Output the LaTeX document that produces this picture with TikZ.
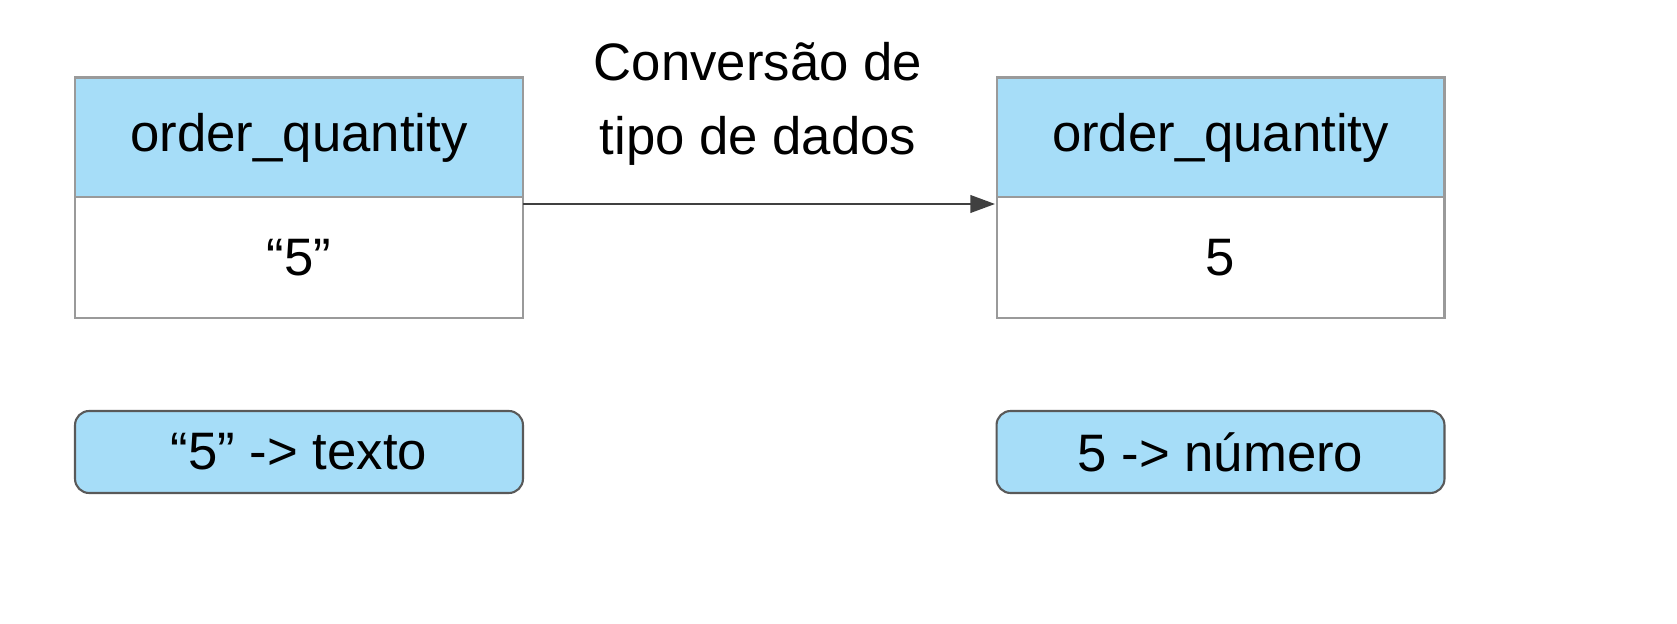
\documentclass[tikz,border=0pt]{standalone}
\usepackage{fontspec}
\setmainfont{Liberation Sans}
\usetikzlibrary{arrows.meta}
\definecolor{lb}{HTML}{A6DDF8}
\definecolor{bd}{HTML}{9A9A9A}
\begin{document}
\begin{tikzpicture}[x=0.02cm,y=-0.02cm,
  hdr/.style={draw=bd,line width=1.2pt,fill=lb,minimum width=8.96cm,minimum height=2.4cm,inner sep=0pt,font=\fontsize{30}{36}\selectfont},
  cell/.style={draw=bd,line width=1.2pt,fill=white,minimum width=8.96cm,minimum height=2.42cm,inner sep=0pt,font=\fontsize{30}{36}\selectfont},
  tag/.style={draw=black!65,line width=1.2pt,fill=lb,rounded corners=8pt,minimum width=8.96cm,minimum height=1.64cm,inner sep=0pt,font=\fontsize{30}{36}\selectfont}]
\useasboundingbox (0,0) rectangle (1677,624);
\node[hdr] (h1) at (299,137.5) {order\_quantity};
\node[cell] (c1) at (299,257.5) {“5”};
\node[hdr] (h2) at (1220.5,137.5) {order\_quantity};
\node[cell] (c2) at (1220.5,257.5) {5};
\node[tag] (t1) at (299,452) {“5” -> texto};
\node[tag] (t2) at (1220.5,452) {5 -> número};
\coordinate (a1) at (523,204);
\coordinate (a2) at (995,204);
\draw[line width=1.2pt,draw=black!75,-{Triangle[length=14pt,width=10pt]}] (a1) -- (a2);
\node[align=center,font=\fontsize{30}{36}\selectfont,inner sep=0pt] (lbl) at (758,104) {Conversão de\\[6pt]tipo de dados};
\end{tikzpicture}
\end{document}
